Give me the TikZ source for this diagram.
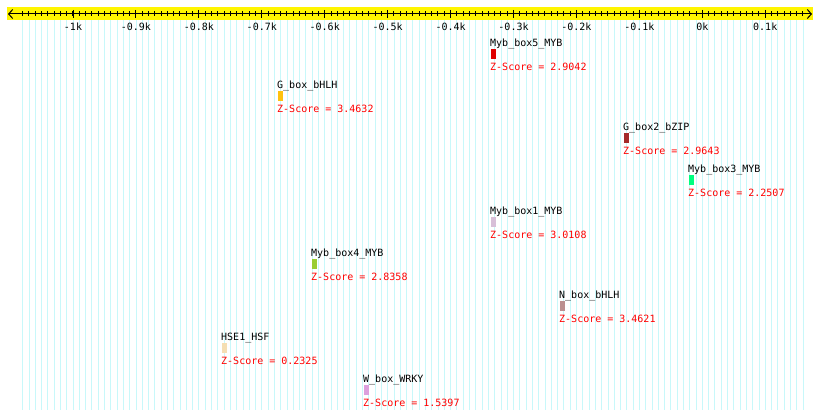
\documentclass[tikz,border=0pt]{standalone}
\usepackage{fontspec}
\newfontfamily\monofont{DejaVu Sans Mono}
\usetikzlibrary{arrows.meta}

\definecolor{gridcyan}{HTML}{C8F8FA}
\definecolor{bandyellow}{HTML}{FFF500}
\definecolor{zred}{HTML}{FF0000}
\definecolor{mybfive}{HTML}{E00000}
\definecolor{gbox}{HTML}{FFC20E}
\definecolor{gboxtwo}{HTML}{A52A2A}
\definecolor{mybthree}{HTML}{00FF7F}
\definecolor{mybone}{HTML}{D8BFD8}
\definecolor{mybfour}{HTML}{9ACD32}
\definecolor{nbox}{HTML}{BC8F8F}
\definecolor{hseone}{HTML}{F5DEB3}
\definecolor{wbox}{HTML}{DDA0DD}

\begin{document}
\begin{tikzpicture}[x=1pt, y=-1pt,
		monotext/.style={inner sep=0pt, font=\monofont\fontsize{10}{12}\selectfont},
		featlabel/.style={monotext, anchor=west},
		scorelabel/.style={monotext, anchor=west, text=zred},
		axislabel/.style={monotext, anchor=center},
		featbox/.style={rectangle, inner sep=0pt, minimum width=5pt, minimum height=10pt, anchor=north west},
		minortick/.style={line width=1pt},
		majortick/.style={line width=1pt}]

	\useasboundingbox (0,0) rectangle (820,419);

	% light grid every 10 bp
	\foreach \v in {-1080,-1070,...,160}
		\draw[gridcyan, line width=0.8pt] ({702.3+0.6293*\v},20) -- ({702.3+0.6293*\v},410);

	% ruler
	\fill[bandyellow] (7,7) rectangle (813,20.5);
	\coordinate (axisL) at (8,14);
	\coordinate (axisR) at (812,14);
	\draw[line width=1pt, {Straight Barb[length=4pt,width=9pt]}-{Straight Barb[length=4pt,width=9pt]}] (axisL) -- (axisR);
	\foreach \v in {-1080,-1070,...,160}
		\draw[minortick] ({702.3+0.6293*\v},11.5) -- ({702.3+0.6293*\v},16.5);
	\foreach \v/\t in {-10/-1k,-9/-0.9k,-8/-0.8k,-7/-0.7k,-6/-0.6k,-5/-0.5k,-4/-0.4k,-3/-0.3k,-2/-0.2k,-1/-0.1k,0/0k,1/0.1k}{
		\draw[majortick] ({702.3+62.93*\v},10) -- ({702.3+62.93*\v},18.5);
		\node[axislabel] (tick\v) at ({702.3+62.93*\v},26.5) {\t};
	}

	% motif hits
	\foreach \x/\n/\c/\z [count=\i] in {
		490/Myb\_box5\_MYB/mybfive/2.9042,
		277/G\_box\_bHLH/gbox/3.4632,
		623/G\_box2\_bZIP/gboxtwo/2.9643,
		688/Myb\_box3\_MYB/mybthree/2.2507,
		490/Myb\_box1\_MYB/mybone/3.0108,
		311/Myb\_box4\_MYB/mybfour/2.8358,
		559/N\_box\_bHLH/nbox/3.4621,
		221/HSE1\_HSF/hseone/0.2325,
		363/W\_box\_WRKY/wbox/1.5397}{
		\node[featlabel] (name\i) at (\x,{43.5+42*(\i-1)}) {\n};
		\node[featbox, fill=\c] (box\i) at (\x+0.5,{49+42*(\i-1)}) {};
		\node[scorelabel] (score\i) at (\x,{66.5+42*(\i-1)}) {Z-Score = \z};
	}
\end{tikzpicture}
\end{document}
